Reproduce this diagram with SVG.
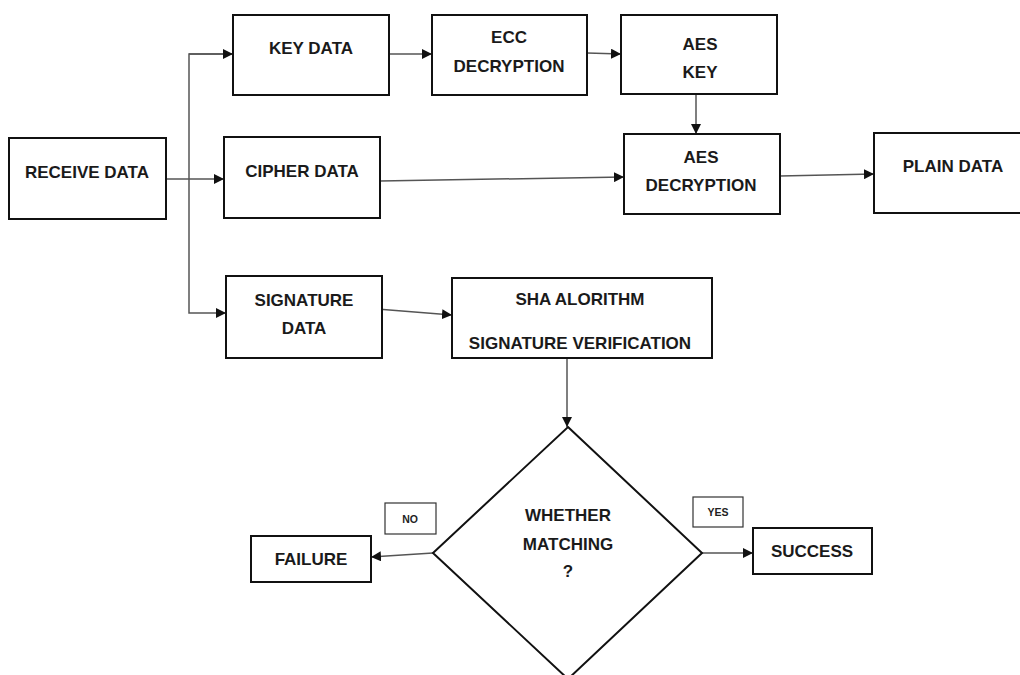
<svg xmlns="http://www.w3.org/2000/svg" width="1020" height="675" viewBox="0 0 1020 675">
  <style>
    .box { fill: #ffffff; stroke: #111111; stroke-width: 2; }
    .tag { fill: #ffffff; stroke: #333333; stroke-width: 1.2; }
    .lbl { font-family: "Liberation Sans", Arial, sans-serif; font-weight: bold; font-size: 17px; fill: #1a1a1a; text-anchor: middle; }
    .small { font-family: "Liberation Sans", Arial, sans-serif; font-weight: bold; font-size: 10.5px; fill: #222222; text-anchor: middle; }
    .wire { fill: none; stroke: #555555; stroke-width: 1.5; }
  </style>
  <defs>
    <marker id="arrow" viewBox="0 0 10 10" refX="10" refY="5" markerWidth="10" markerHeight="10" markerUnits="userSpaceOnUse" orient="auto">
      <path d="M0,0 L10,5 L0,10 Z" fill="#111111"/>
    </marker>
  </defs>
  <rect width="1020" height="675" fill="#ffffff"/>

  <!-- connectors -->
  <g id="connectors">
    <polyline class="wire" points="233,54 189,54 189,313 226,313" marker-end="url(#arrow)"/>
    <path class="wire" d="M189,54 L233,54" marker-end="url(#arrow)"/>
    <path class="wire" d="M166,179 L224,179" marker-end="url(#arrow)"/>
    <path class="wire" d="M389,54 L432,54" marker-end="url(#arrow)"/>
    <path class="wire" d="M587,53 L621,54" marker-end="url(#arrow)"/>
    <path class="wire" d="M696,94 L696,134" marker-end="url(#arrow)"/>
    <path class="wire" d="M380,181 L624,177" marker-end="url(#arrow)"/>
    <path class="wire" d="M780,176 L874,174" marker-end="url(#arrow)"/>
    <path class="wire" d="M377,309 L452,315" marker-end="url(#arrow)"/>
    <path class="wire" d="M567,358 L567,427" marker-end="url(#arrow)"/>
    <path class="wire" d="M433,553 L371,557" marker-end="url(#arrow)"/>
    <path class="wire" d="M702,553 L753,553" marker-end="url(#arrow)"/>
  </g>

  <g id="receive-data">
    <rect class="box" x="9" y="138" width="157" height="81"/>
    <text class="lbl" x="87" y="178">RECEIVE DATA</text>
  </g>
  <g id="key-data">
    <rect class="box" x="233" y="15" width="156" height="80"/>
    <text class="lbl" x="311" y="54">KEY DATA</text>
  </g>
  <g id="ecc-decryption">
    <rect class="box" x="432" y="15" width="155" height="80"/>
    <text class="lbl" x="509" y="43">ECC</text>
    <text class="lbl" x="509" y="72">DECRYPTION</text>
  </g>
  <g id="aes-key">
    <rect class="box" x="621" y="15" width="156" height="79"/>
    <text class="lbl" x="700" y="50">AES</text>
    <text class="lbl" x="700" y="78">KEY</text>
  </g>
  <g id="cipher-data">
    <rect class="box" x="224" y="137" width="156" height="81"/>
    <text class="lbl" x="302" y="177">CIPHER DATA</text>
  </g>
  <g id="aes-decryption">
    <rect class="box" x="624" y="134" width="156" height="80"/>
    <text class="lbl" x="701" y="163">AES</text>
    <text class="lbl" x="701" y="191">DECRYPTION</text>
  </g>
  <g id="plain-data">
    <rect class="box" x="874" y="133" width="156" height="80"/>
    <text class="lbl" x="953" y="172">PLAIN DATA</text>
  </g>
  <g id="signature-data">
    <rect class="box" x="226" y="276" width="156" height="82"/>
    <text class="lbl" x="304" y="306">SIGNATURE</text>
    <text class="lbl" x="304" y="334">DATA</text>
  </g>
  <g id="sha-verification">
    <rect class="box" x="452" y="278" width="260" height="80"/>
    <text class="lbl" x="580" y="305">SHA ALORITHM</text>
    <text class="lbl" x="580" y="349">SIGNATURE VERIFICATION</text>
  </g>
  <g id="whether-matching">
    <polygon class="box" points="568,427 702,553 568,679 433,553"/>
    <text class="lbl" x="568" y="521">WHETHER</text>
    <text class="lbl" x="568" y="550">MATCHING</text>
    <text class="lbl" x="568" y="577">?</text>
  </g>
  <g id="failure">
    <rect class="box" x="251" y="536" width="120" height="46"/>
    <text class="lbl" x="311" y="565">FAILURE</text>
  </g>
  <g id="success">
    <rect class="box" x="753" y="528" width="119" height="46"/>
    <text class="lbl" x="812" y="557">SUCCESS</text>
  </g>
  <g id="no-tag">
    <rect class="tag" x="385" y="503" width="51" height="31"/>
    <text class="small" x="410" y="523">NO</text>
  </g>
  <g id="yes-tag">
    <rect class="tag" x="693" y="497" width="50" height="30"/>
    <text class="small" x="718" y="516">YES</text>
  </g>
</svg>
